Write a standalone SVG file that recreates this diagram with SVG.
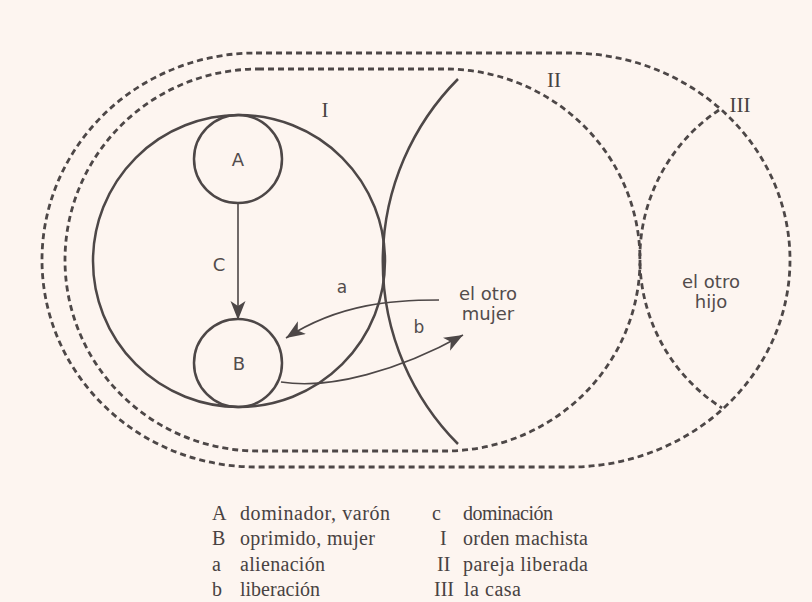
<svg xmlns="http://www.w3.org/2000/svg" width="812" height="602" viewBox="0 0 812 602">
<style>
.dash{fill:none;stroke:#4d4747;stroke-width:2.8;stroke-dasharray:6 4}
.solid{fill:none;stroke:#4d4747;stroke-width:2.5}
.arrow{fill:none;stroke:#4d4747;stroke-width:1.6}
.sans{font-family:"DejaVu Sans","Liberation Sans",sans-serif;fill:#524c4c;text-anchor:middle}
.serif{font-family:"Liberation Serif","Times New Roman",serif;fill:#484242}
.roman{font-family:"Liberation Serif","Times New Roman",serif;fill:#484242;font-size:21px;text-anchor:middle}
</style>
<defs>
<marker id="ah" markerUnits="userSpaceOnUse" markerWidth="22" markerHeight="16" refX="19" refY="7.5" orient="auto">
<path d="M0,0 L19,7.5 L0,15 L5,7.5 Z" fill="#4d4747"/>
</marker>
</defs>
<rect width="812" height="602" fill="#fdf5f0"/>
<g id="region-III-outer">
<path class="dash" d="M256,53 L570,53 A220,207 0 0 1 570,467 L256,467 A214,207 0 0 1 256,53 Z"/>
<path class="dash" d="M719,110 A178,178 0 0 0 722,408"/>
<text class="roman" x="740" y="112">III</text>
</g>
<g id="region-II">
<path class="dash" d="M258,69 L445,69 A195,191 0 0 1 445,451 L258,451 A193,191 0 0 1 258,69 Z"/>
<path class="solid" d="M458,79 A259,259 0 0 0 458,444"/>
<text class="roman" x="554" y="87">II</text>
</g>
<g id="region-I">
<circle class="solid" cx="239" cy="261" r="146"/>
<text class="roman" x="325" y="117">I</text>
</g>
<g id="node-A">
<circle class="solid" cx="238" cy="159" r="44"/>
<text class="sans" x="238" y="165.5" font-size="18">A</text>
</g>
<g id="node-B">
<circle class="solid" cx="238" cy="363" r="44"/>
<text class="sans" x="239" y="369.5" font-size="18">B</text>
</g>
<g id="node-otro-mujer">
<text class="sans" x="488" y="300" font-size="18">el otro</text>
<text class="sans" x="488" y="320" font-size="18">mujer</text>
</g>
<g id="node-otro-hijo">
<text class="sans" x="711" y="288" font-size="18">el otro</text>
<text class="sans" x="711" y="308" font-size="18">hijo</text>
</g>
<g id="connectors">
<line class="arrow" x1="238" y1="203" x2="238" y2="320" marker-end="url(#ah)"/>
<text class="sans" x="219" y="270.5" font-size="18">C</text>
<path class="arrow" d="M439,300 C395,300 340,303 286,338" marker-end="url(#ah)"/>
<text class="sans" x="342" y="293" font-size="17">a</text>
<path class="arrow" d="M281,382 C330,390 400,370 463,335" marker-end="url(#ah)"/>
<text class="sans" x="419" y="333" font-size="17">b</text>
</g>
<g id="legend" font-size="20">
<text class="serif" x="212" y="520">A</text>
<text class="serif" x="240" y="520" textLength="150">dominador, varón</text>
<text class="serif" x="212" y="545">B</text>
<text class="serif" x="240" y="545" textLength="135">oprimido, mujer</text>
<text class="serif" x="212" y="571">a</text>
<text class="serif" x="240" y="571" textLength="85">alienación</text>
<text class="serif" x="212" y="596">b</text>
<text class="serif" x="240" y="596" textLength="80">liberación</text>
<text class="serif" x="432" y="520">c</text>
<text class="serif" x="463" y="520" textLength="90">dominación</text>
<text class="serif" x="440" y="545">I</text>
<text class="serif" x="463" y="545" textLength="125">orden machista</text>
<text class="serif" x="437" y="571">II</text>
<text class="serif" x="463" y="571" textLength="125">pareja liberada</text>
<text class="serif" x="434" y="596">III</text>
<text class="serif" x="464" y="596" textLength="57">la casa</text>
</g>
</svg>
